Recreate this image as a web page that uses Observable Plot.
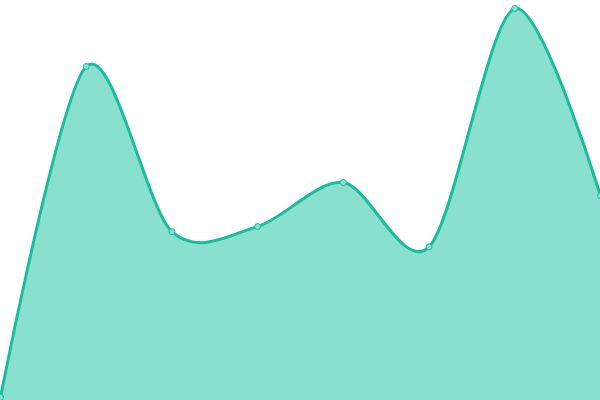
<!DOCTYPE html>
<html>
<head>
<meta charset="utf-8">
<script src="https://cdn.jsdelivr.net/npm/d3@7"></script>
<script src="https://cdn.jsdelivr.net/npm/@observablehq/plot@0.6"></script>
<style>
html,body{margin:0;padding:0;background:#fff;}
svg{display:block;}
</style>
</head>
<body>
<div id="chart"></div>
<script>
const xs = [0, 1, 2, 3, 4, 5, 6, 7];
const values = [0.8, 83.5, 42.2, 43.5, 54.5, 38.4, 98, 51.2];
const data = xs.map((x, i) => ({x, y: values[i]}));

const chart = Plot.plot({
  width: 600,
  height: 400,
  margin: 0,
  x: {domain: [0, 7], axis: null},
  y: {domain: [0, 100], axis: null},
  marks: [
    Plot.areaY(data, {x: "x", y: "y", curve: "cardinal", tension: 0.1, fill: "#89e0cf"}),
    Plot.lineY(data, {x: "x", y: "y", curve: "cardinal", tension: 0.1, stroke: "#1abc9c", strokeWidth: 3}),
    Plot.dot(data, {x: "x", y: "y", r: 3, fill: "#89e0cf", stroke: "#1abc9c", strokeWidth: 1})
  ]
});
document.getElementById("chart").append(chart);
</script>
</body>
</html>
